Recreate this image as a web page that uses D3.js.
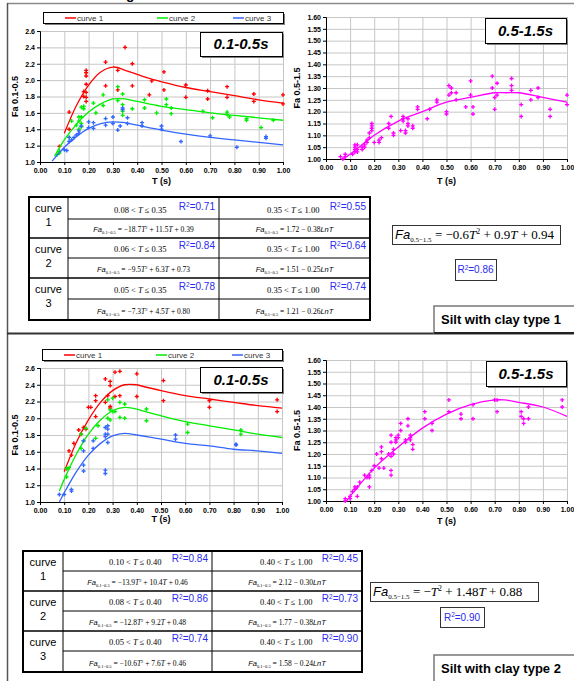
<!DOCTYPE html>
<html>
<head>
<meta charset="utf-8">
<script src="https://cdn.jsdelivr.net/npm/d3@7"></script>
<style>
  body { margin: 0; background: #fff; }
  svg { display: block; }
</style>
</head>
<body>
<div id="fig"></div>
<script>
// ---------- data ----------
var tTicks = [0, 0.1, 0.2, 0.3, 0.4, 0.5, 0.6, 0.7, 0.8, 0.9, 1.0]
var faTicks = [1.0, 1.2, 1.4, 1.6, 1.8, 2.0, 2.2, 2.4, 2.6]
var fa2Ticks = [1.00, 1.05, 1.10, 1.15, 1.20, 1.25, 1.30, 1.35, 1.40, 1.45, 1.50, 1.55, 1.60]
var curveNames = ['curve 1', 'curve 2', 'curve 3']

// silt with clay type 1, Fa 0.1-0.5
var t1Red = [[0.08,1.19],[0.12,1.61],[0.12,1.40],[0.18,1.80],[0.18,1.86],[0.19,1.79],[0.19,1.74],[0.19,1.85],[0.19,1.95],[0.19,2.05],[0.19,2.09],[0.19,2.12],[0.27,2.22],[0.27,1.93],[0.32,2.12],[0.32,1.88],[0.35,2.40],[0.38,2.20],[0.38,1.93],[0.46,1.99],[0.45,1.82],[0.51,2.10],[0.51,1.88],[0.60,1.94],[0.60,1.79],[0.69,1.87],[0.69,1.77],[0.77,1.92],[0.77,1.79],[0.88,1.83],[0.88,1.74],[1.00,1.82],[1.00,1.71]]
var t1Green = [[0.07,1.09],[0.08,1.11],[0.08,1.13],[0.13,1.50],[0.12,1.30],[0.15,1.45],[0.16,1.55],[0.16,1.50],[0.17,1.55],[0.17,1.47],[0.17,1.67],[0.18,1.68],[0.18,1.65],[0.17,1.43],[0.16,1.40],[0.22,1.72],[0.23,1.60],[0.26,1.82],[0.26,1.69],[0.32,1.92],[0.32,1.75],[0.34,1.83],[0.34,1.70],[0.34,1.62],[0.34,1.57],[0.38,1.65],[0.43,1.76],[0.43,1.66],[0.48,1.60],[0.52,1.77],[0.52,1.70],[0.54,1.66],[0.54,1.59],[0.67,1.62],[0.71,1.54],[0.77,1.61],[0.77,1.58],[0.78,1.55],[0.85,1.53],[0.85,1.51],[0.91,1.42],[0.96,1.51]]
var t1Blue = [[0.10,1.15],[0.11,1.14],[0.12,1.30],[0.12,1.25],[0.13,1.27],[0.14,1.30],[0.15,1.33],[0.16,1.35],[0.16,1.38],[0.17,1.44],[0.20,1.49],[0.20,1.42],[0.22,1.48],[0.22,1.41],[0.27,1.53],[0.27,1.45],[0.30,1.55],[0.30,1.47],[0.32,1.39],[0.33,1.44],[0.34,1.66],[0.34,1.64],[0.36,1.54],[0.36,1.47],[0.42,1.48],[0.42,1.44],[0.50,1.44],[0.50,1.40],[0.58,1.25],[0.70,1.32],[0.81,1.18],[0.93,1.31],[0.93,1.29]]
// fitted lines as drawn (short-period part, long-period part)
var t1RedFitA = [[0.10,1.35],[0.15,1.69],[0.20,1.94],[0.25,2.10],[0.30,2.16],[0.35,2.12]]
var t1RedFitB = [[0.35,2.12],[0.40,2.07],[0.45,2.02],[0.50,1.98],[0.60,1.91],[0.70,1.86],[0.80,1.81],[0.90,1.76],[1.00,1.72]]
var t1GreenFitA = [[0.06,1.07],[0.10,1.27],[0.15,1.46],[0.20,1.61],[0.25,1.71],[0.30,1.77],[0.35,1.77]]
var t1GreenFitB = [[0.35,1.77],[0.40,1.74],[0.50,1.68],[0.60,1.64],[0.70,1.60],[0.80,1.57],[0.90,1.54],[1.00,1.51]]
var t1BlueFitA = [[0.05,1.01],[0.10,1.18],[0.15,1.31],[0.20,1.41],[0.25,1.47],[0.30,1.49],[0.35,1.48]]
var t1BlueFitB = [[0.35,1.48],[0.40,1.45],[0.50,1.39],[0.60,1.34],[0.70,1.30],[0.80,1.27],[0.90,1.24],[1.00,1.21]]

// silt with clay type 1, Fa 0.5-1.5
var t1Pink = [[0.06,1.01],[0.07,1.00],[0.08,1.02],[0.08,1.01],[0.11,1.02],[0.12,1.06],[0.12,1.05],[0.12,1.04],[0.12,1.03],[0.13,1.06],[0.13,1.04],[0.13,1.03],[0.15,1.04],[0.15,1.05],[0.16,1.06],[0.16,1.05],[0.17,1.07],[0.17,1.08],[0.18,1.09],[0.18,1.11],[0.19,1.12],[0.19,1.13],[0.19,1.14],[0.19,1.15],[0.20,1.07],[0.22,1.08],[0.22,1.07],[0.23,1.09],[0.26,1.15],[0.26,1.13],[0.27,1.18],[0.28,1.11],[0.28,1.10],[0.31,1.12],[0.32,1.18],[0.32,1.17],[0.32,1.16],[0.33,1.12],[0.33,1.11],[0.34,1.17],[0.34,1.15],[0.34,1.14],[0.36,1.14],[0.36,1.13],[0.38,1.22],[0.38,1.21],[0.42,1.17],[0.43,1.21],[0.46,1.25],[0.46,1.24],[0.50,1.20],[0.50,1.19],[0.51,1.31],[0.51,1.27],[0.52,1.30],[0.52,1.28],[0.54,1.28],[0.54,1.25],[0.58,1.22],[0.60,1.33],[0.60,1.27],[0.61,1.22],[0.61,1.19],[0.69,1.35],[0.69,1.30],[0.70,1.26],[0.70,1.21],[0.71,1.32],[0.71,1.27],[0.77,1.34],[0.77,1.31],[0.77,1.29],[0.81,1.23],[0.81,1.18],[0.85,1.29],[0.85,1.25],[0.88,1.30],[0.88,1.26],[0.93,1.21],[0.93,1.18],[1.00,1.27],[1.00,1.23]]
var t1PinkFit = [[0.07,1.00],[0.10,1.02],[0.20,1.10],[0.30,1.16],[0.40,1.20],[0.50,1.24],[0.60,1.26],[0.70,1.28],[0.75,1.28],[0.80,1.28],[0.90,1.26],[1.00,1.24]]

// silt with clay type 2, Fa 0.1-0.5
var t2Red = [[0.11,1.40],[0.12,1.61],[0.13,1.56],[0.14,1.70],[0.16,1.86],[0.17,1.81],[0.18,1.89],[0.19,1.87],[0.20,2.13],[0.21,2.13],[0.23,2.27],[0.23,2.21],[0.23,2.02],[0.27,2.19],[0.27,2.47],[0.28,2.27],[0.29,2.44],[0.29,2.39],[0.29,2.14],[0.29,2.12],[0.31,2.55],[0.31,2.26],[0.33,2.56],[0.33,2.27],[0.40,2.53],[0.40,2.26],[0.51,2.45],[0.51,2.21],[0.70,2.21],[0.70,2.13],[0.98,2.22],[0.98,2.08]]
var t2Green = [[0.11,1.40],[0.11,1.30],[0.12,1.41],[0.17,1.64],[0.17,1.81],[0.18,1.73],[0.19,1.88],[0.23,1.76],[0.24,1.91],[0.28,2.22],[0.28,2.00],[0.29,2.10],[0.29,1.98],[0.30,2.08],[0.30,2.24],[0.31,2.08],[0.33,2.19],[0.33,2.01],[0.35,2.17],[0.35,2.00],[0.44,2.11],[0.44,1.97],[0.61,1.93],[0.61,1.83],[0.83,1.86],[0.83,1.81]]
var t2Blue = [[0.08,1.09],[0.10,1.09],[0.13,1.15],[0.13,1.13],[0.18,1.73],[0.18,1.61],[0.18,1.44],[0.18,1.37],[0.22,1.73],[0.22,1.64],[0.27,1.89],[0.27,1.81],[0.27,1.78],[0.27,1.38],[0.27,1.34],[0.28,1.91],[0.28,1.81],[0.28,1.71],[0.28,1.87],[0.56,1.80],[0.56,1.75],[0.81,1.69],[0.81,1.68]]
var t2RedFitA = [[0.10,1.36],[0.15,1.71],[0.20,1.98],[0.25,2.19],[0.30,2.33],[0.35,2.40],[0.40,2.40]]
var t2RedFitB = [[0.40,2.40],[0.50,2.33],[0.60,2.27],[0.70,2.23],[0.80,2.19],[0.90,2.15],[1.00,2.12]]
var t2GreenFitA = [[0.08,1.13],[0.10,1.27],[0.15,1.57],[0.20,1.81],[0.25,1.98],[0.30,2.09],[0.35,2.13],[0.40,2.11]]
var t2GreenFitB = [[0.40,2.11],[0.50,2.03],[0.60,1.96],[0.70,1.91],[0.80,1.86],[0.90,1.81],[1.00,1.77]]
var t2BlueFitA = [[0.08,1.00],[0.10,1.11],[0.15,1.36],[0.20,1.56],[0.25,1.70],[0.30,1.79],[0.35,1.82],[0.40,1.80]]
var t2BlueFitB = [[0.40,1.80],[0.50,1.75],[0.60,1.70],[0.70,1.67],[0.80,1.63],[0.90,1.61],[1.00,1.58]]

// silt with clay type 2, Fa 0.5-1.5
var t2Pink = [[0.08,1.01],[0.08,1.00],[0.10,1.02],[0.10,1.01],[0.11,1.04],[0.12,1.05],[0.12,1.06],[0.13,1.06],[0.13,1.02],[0.14,1.08],[0.16,1.11],[0.17,1.10],[0.18,1.11],[0.18,1.10],[0.18,1.06],[0.19,1.13],[0.20,1.15],[0.21,1.20],[0.22,1.14],[0.23,1.23],[0.23,1.21],[0.23,1.18],[0.24,1.14],[0.26,1.20],[0.27,1.28],[0.27,1.25],[0.27,1.19],[0.27,1.13],[0.27,1.11],[0.28,1.22],[0.28,1.20],[0.29,1.27],[0.29,1.26],[0.29,1.25],[0.30,1.28],[0.30,1.27],[0.31,1.33],[0.31,1.30],[0.33,1.25],[0.33,1.26],[0.34,1.35],[0.34,1.32],[0.35,1.28],[0.35,1.27],[0.35,1.26],[0.36,1.24],[0.36,1.22],[0.41,1.38],[0.41,1.35],[0.44,1.33],[0.44,1.30],[0.51,1.43],[0.51,1.38],[0.56,1.37],[0.56,1.35],[0.61,1.41],[0.61,1.35],[0.70,1.43],[0.71,1.43],[0.71,1.38],[0.81,1.38],[0.81,1.36],[0.82,1.35],[0.82,1.33],[0.84,1.40],[0.84,1.35],[0.98,1.43],[0.98,1.40]]
var t2PinkFit = [[0.085,1.00],[0.10,1.02],[0.20,1.14],[0.30,1.23],[0.40,1.31],[0.50,1.37],[0.60,1.41],[0.70,1.43],[0.74,1.43],[0.80,1.42],[0.90,1.40],[1.00,1.36]]

// regression tables
var tab1Short = ['0.08 < T ≤ 0.35', '0.06 < T ≤ 0.35', '0.05 < T ≤ 0.35']
var tab1ShortR2 = ['0.71', '0.84', '0.78']
var tab1ShortEq = ['−18.7T² + 11.5T + 0.39', '−9.5T² + 6.3T + 0.73', '−7.3T² + 4.5T + 0.80']
var tab1Long = ['0.35 < T ≤ 1.00', '0.35 < T ≤ 1.00', '0.35 < T ≤ 1.00']
var tab1LongR2 = ['0.55', '0.64', '0.74']
var tab1LongEq = ['1.72 − 0.38LnT', '1.51 − 0.25LnT', '1.21 − 0.26LnT']
var tab2Short = ['0.10 < T ≤ 0.40', '0.08 < T ≤ 0.40', '0.05 < T ≤ 0.40']
var tab2ShortR2 = ['0.84', '0.86', '0.74']
var tab2ShortEq = ['−13.9T² + 10.4T + 0.46', '−12.8T² + 9.2T + 0.48', '−10.6T² + 7.6T + 0.46']
var tab2Long = ['0.40 < T ≤ 1.00', '0.40 < T ≤ 1.00', '0.40 < T ≤ 1.00']
var tab2LongR2 = ['0.45', '0.73', '0.90']
var tab2LongEq = ['2.12 − 0.30LnT', '1.77 − 0.38LnT', '1.58 − 0.24LnT']
var longEq = ['−0.6T² + 0.9T + 0.94', '−T² + 1.48T + 0.88']
var longR2 = ['0.86', '0.90']
var soilNames = ['Silt with clay type 1', 'Silt with clay type 2']

var colors = ['#ff0000', '#00ee00', '#3366ff']
var pink = '#ff00ff'
var SERIF = "'Liberation Serif', 'Times New Roman', serif"
var SANS = "'Liberation Sans', Arial, sans-serif"

var svg = d3.select('#fig').append('svg')
    .attr('width', 574).attr('height', 681)
    .style('font-family', SANS)

//page frame
svg.append('line').attr('x1', 7).attr('y1', 3.5).attr('x2', 574).attr('y2', 3.5)
    .attr('stroke', '#8a8a8a').attr('stroke-width', 1.5)
svg.append('line').attr('x1', 7.5).attr('y1', 3).attr('x2', 7.5).attr('y2', 681)
    .attr('stroke', '#555').attr('stroke-width', 1.5)
svg.append('line').attr('x1', 7).attr('y1', 333.5).attr('x2', 574).attr('y2', 333.5)
    .attr('stroke', '#333').attr('stroke-width', 2)
// bottom of the cut-off title
svg.append('text').attr('x', 126).attr('y', -1).text('g')
    .style('font-size', '14px').style('font-weight', 'bold')

//rich text: T italic, ² raised, LnT italic
function richText(sel, str, size, fam) {
  var back = 0
  str.split(/(LnT|T|²)/).forEach(function(p) {
    if (p === '') return
    var ts = sel.append('tspan')
    if (p === '²') {
      ts.attr('dy', back - size * 0.4).style('font-size', (size * 0.6) + 'px')
        .style('font-family', fam).style('font-style', 'normal').text('2')
      back = size * 0.4
      return
    }
    if (back) ts.attr('dy', back)
    back = 0
    if (p === 'LnT') {
      ts.style('font-family', SANS).style('font-style', 'italic').style('font-size', size + 'px').text('LnT')
    } else {
      ts.style('font-family', fam).style('font-style', p === 'T' ? 'italic' : 'normal')
        .style('font-size', size + 'px').text(p)
    }
  })
}

function faText(g, x, y, sub, expr, size, subSize, anchor) {
  var t = g.append('text').attr('x', x).attr('y', y).attr('text-anchor', anchor || 'start')
  t.append('tspan').style('font-family', SANS).style('font-style', 'italic')
   .style('font-size', size + 'px').text('Fa')
  t.append('tspan').attr('dy', size * 0.25).style('font-family', SERIF)
   .style('font-size', subSize + 'px').text(sub)
  t.append('tspan').attr('dy', -size * 0.25).style('font-family', SERIF)
   .style('font-size', size + 'px').text(' = ')
  richText(t, expr, size, SERIF)
  return t
}

function shadowBox(x, y, w, h) {
  svg.append('rect').attr('x', x + 2).attr('y', y + 2).attr('width', w).attr('height', h).attr('fill', '#7f7f7f')
  svg.append('rect').attr('x', x + 0.5).attr('y', y + 0.5).attr('width', w).attr('height', h)
     .attr('fill', '#fff').attr('stroke', '#000').attr('stroke-width', 1)
}

function r2Label(g, x, y, val, anchor) {
  var r2 = g.append('text').attr('x', x).attr('y', y).attr('text-anchor', anchor)
   .attr('fill', '#2a2af0').style('font-size', '10px')
  r2.append('tspan').text('R')
  r2.append('tspan').attr('dy', -3.5).style('font-size', '6.5px').text('2')
  r2.append('tspan').attr('dy', 3.5).text('=' + val)
}

//scatter chart with fitted lines
function drawChart(cfg) {
  var x = d3.scaleLinear().domain([0, 1]).range(cfg.xr)
  var y = d3.scaleLinear().domain([cfg.yt[0], cfg.yt[cfg.yt.length - 1]]).range(cfg.yr)
  var g = svg.append('g')
  var h = cfg.yr[0] - cfg.yr[1], w = cfg.xr[1] - cfg.xr[0]

  //grid
  g.append('g').attr('transform', 'translate(0,' + cfg.yr[0] + ')')
   .call(d3.axisBottom(x).tickValues(tTicks).tickSize(-h).tickFormat(''))
   .call(function(a) { a.select('.domain').remove() })
   .selectAll('line').attr('stroke', '#c6c6c6')
  g.append('g').attr('transform', 'translate(' + cfg.xr[0] + ',0)')
   .call(d3.axisLeft(y).tickValues(cfg.yt).tickSize(-w).tickFormat(''))
   .call(function(a) { a.select('.domain').remove() })
   .selectAll('line').attr('stroke', '#c6c6c6')

  //axes
  var xa = g.append('g').attr('transform', 'translate(0,' + cfg.yr[0] + ')')
   .call(d3.axisBottom(x).tickValues(tTicks).tickSize(3).tickPadding(3).tickFormat(d3.format('.2f')))
  var ya = g.append('g').attr('transform', 'translate(' + cfg.xr[0] + ',0)')
   .call(d3.axisLeft(y).tickValues(cfg.yt).tickSize(3).tickPadding(2).tickFormat(cfg.fmt))
  ;[xa, ya].forEach(function(a) {
    a.selectAll('text').style('font-family', SANS).style('font-size', '7px')
     .style('font-weight', 'bold').attr('fill', '#000')
    a.selectAll('line,path').attr('stroke', '#000')
  })

  g.append('text').attr('x', (cfg.xr[0] + cfg.xr[1]) / 2).attr('y', cfg.xlab)
   .attr('text-anchor', 'middle').style('font-size', '9px').style('font-weight', 'bold').text('T (s)')
  g.append('text').attr('transform', 'translate(' + cfg.ylab + ',' + (cfg.yr[0] + cfg.yr[1]) / 2 + ') rotate(-90)')
   .attr('text-anchor', 'middle').style('font-size', '9px').style('font-weight', 'bold').text(cfg.ytitle)

  var line = d3.line().x(function(d) { return x(d[0]) }).y(function(d) { return y(d[1]) })
      .curve(d3.curveCatmullRom)
  var cross = d3.symbol().type(d3.symbolCross).size(9)

  cfg.series.forEach(function(s) {
    s.fits.forEach(function(f) {
      g.append('path').datum(f).attr('d', line).attr('fill', 'none')
       .attr('stroke', s.color).attr('stroke-width', 1.3)
    })
    g.append('g').selectAll('path').data(s.pts).enter().append('path')
     .attr('d', cross)
     .attr('transform', function(d) { return 'translate(' + x(d[0]) + ',' + y(d[1]) + ')' })
     .attr('fill', s.color)
  })

  //range box
  var b = cfg.box
  shadowBox(b[0], b[1], b[2], b[3])
  svg.append('text').attr('x', b[0] + b[2] / 2).attr('y', b[1] + b[3] / 2 + 5)
   .attr('text-anchor', 'middle').style('font-size', '15px').style('font-weight', 'bold')
   .style('font-style', 'italic').text(cfg.label)

  //legend
  if (cfg.legend) {
    var L = cfg.legend
    shadowBox(L[0], L[1], 240, 11)
    var lx = [L[0] + 22, L[0] + 114, L[0] + 190]
    curveNames.forEach(function(n, i) {
      svg.append('line').attr('x1', lx[i]).attr('x2', lx[i] + 11)
       .attr('y1', L[1] + 6).attr('y2', L[1] + 6).attr('stroke', colors[i]).attr('stroke-width', 1.5)
      svg.append('text').attr('x', lx[i] + 12).attr('y', L[1] + 9)
       .style('font-size', '8px').attr('fill', '#333').text(n)
    })
  }
}

//regression table
function drawTable(t) {
  var g = svg.append('g')
  var xs = t.xs, ys = t.ys
  for (var i = 0; i < 3; i++) {
    var top = ys[i * 2], mid = ys[i * 2 + 1], bot = ys[i * 2 + 2]
    g.append('text').attr('x', (xs[0] + xs[1]) / 2).attr('y', top + 15).attr('text-anchor', 'middle')
     .style('font-size', '11px').text('curve')
    g.append('text').attr('x', (xs[0] + xs[1]) / 2).attr('y', top + 29).attr('text-anchor', 'middle')
     .style('font-size', '11px').text(i + 1)
    var cols = [[t.short, t.shortR2, t.shortEq], [t.long, t.longR2, t.longEq]]
    cols.forEach(function(c, k) {
      var cx0 = xs[k + 1], cx1 = xs[k + 2]
      var rt = g.append('text').attr('x', cx0 + (k ? 48 : 46)).attr('y', mid - 6)
      richText(rt, c[0][i], 8.5, SERIF)
      r2Label(g, cx1 - 4, mid - 9, c[1][i], 'end')
      faText(g, (cx0 + cx1) / 2, bot - 6, '0.1−0.5', c[2][i], 7.5, 4.5, 'middle')
    })
    g.append('line').attr('x1', xs[1]).attr('x2', xs[3]).attr('y1', mid).attr('y2', mid)
     .attr('stroke', '#000').attr('stroke-width', 1)
    if (i > 0) g.append('line').attr('x1', xs[0]).attr('x2', xs[3]).attr('y1', top).attr('y2', top)
     .attr('stroke', '#000').attr('stroke-width', 1.5)
  }
  ;[1, 2].forEach(function(k) {
    g.append('line').attr('x1', xs[k]).attr('x2', xs[k]).attr('y1', ys[0]).attr('y2', ys[6])
     .attr('stroke', '#000').attr('stroke-width', 1)
  })
  g.append('rect').attr('x', xs[0]).attr('y', ys[0]).attr('width', xs[3] - xs[0]).attr('height', ys[6] - ys[0])
   .attr('fill', 'none').attr('stroke', '#000').attr('stroke-width', 2)
}

function drawLongEq(k, eb, rb, sb) {
  svg.append('rect').attr('x', eb[0] + 0.5).attr('y', eb[1] + 0.5).attr('width', eb[2]).attr('height', eb[3])
   .attr('fill', '#fff').attr('stroke', '#333').attr('stroke-width', 1)
  faText(svg, eb[0] + 3, eb[1] + eb[3] - 5, '0.5−1.5', longEq[k], 13, 7, 'start')
  svg.append('rect').attr('x', rb[0] + 0.5).attr('y', rb[1] + 0.5).attr('width', rb[2]).attr('height', rb[3])
   .attr('fill', '#fff').attr('stroke', '#333').attr('stroke-width', 1)
  r2Label(svg, rb[0] + rb[2] / 2, rb[1] + rb[3] / 2 + 3.5, longR2[k], 'middle')
  //soil name box
  svg.append('rect').attr('x', sb[0]).attr('y', sb[1]).attr('width', 200).attr('height', sb[2])
   .attr('fill', '#fff').attr('stroke', '#777').attr('stroke-width', 1.5)
  svg.append('line').attr('x1', sb[0]).attr('x2', 574).attr('y1', sb[1] + sb[2]).attr('y2', sb[1] + sb[2])
   .attr('stroke', '#222').attr('stroke-width', 2)
  svg.append('text').attr('x', sb[0] + 7).attr('y', sb[1] + 18).style('font-size', '13px')
   .style('font-weight', 'bold').text(soilNames[k])
}

// ---------- panel 1 ----------
drawChart({ xr: [40, 283], yr: [162, 31], yt: faTicks, fmt: d3.format('.1f'), xlab: 184, ylab: 18,
  ytitle: 'Fa 0.1-0.5', label: '0.1-0.5s', box: [200, 32, 82, 24], legend: [43, 12],
  series: [
    { color: colors[0], pts: t1Red, fits: [t1RedFitA, t1RedFitB] },
    { color: colors[1], pts: t1Green, fits: [t1GreenFitA, t1GreenFitB] },
    { color: colors[2], pts: t1Blue, fits: [t1BlueFitA, t1BlueFitB] }
  ] })
drawChart({ xr: [326, 567], yr: [159, 17], yt: fa2Ticks, fmt: d3.format('.2f'), xlab: 184, ylab: 300,
  ytitle: 'Fa 0.5-1.5', label: '0.5-1.5s', box: [485, 18, 81, 25],
  series: [{ color: pink, pts: t1Pink, fits: [t1PinkFit] }] })
drawTable({ xs: [29, 68, 219, 370], ys: [197, 219, 238, 258, 278, 299, 320],
  short: tab1Short, shortR2: tab1ShortR2, shortEq: tab1ShortEq,
  long: tab1Long, longR2: tab1LongR2, longEq: tab1LongEq })
drawLongEq(0, [392, 225, 168, 19], [455, 259, 41, 21], [434, 306, 27])

// ---------- panel 2 ----------
drawChart({ xr: [40, 282], yr: [502, 368], yt: faTicks, fmt: d3.format('.1f'), xlab: 522, ylab: 18,
  ytitle: 'Fa 0.1-0.5', label: '0.1-0.5s', box: [200, 367, 82, 25], legend: [42, 349],
  series: [
    { color: colors[0], pts: t2Red, fits: [t2RedFitA, t2RedFitB] },
    { color: colors[1], pts: t2Green, fits: [t2GreenFitA, t2GreenFitB] },
    { color: colors[2], pts: t2Blue, fits: [t2BlueFitA, t2BlueFitB] }
  ] })
drawChart({ xr: [326, 567], yr: [501, 360], yt: fa2Ticks, fmt: d3.format('.2f'), xlab: 524, ylab: 300,
  ytitle: 'Fa 0.5-1.5', label: '0.5-1.5s', box: [486, 361, 80, 25],
  series: [{ color: pink, pts: t2Pink, fits: [t2PinkFit] }] })
drawTable({ xs: [23, 63, 212, 362], ys: [551, 571, 591, 611, 631, 651, 672],
  short: tab2Short, shortR2: tab2ShortR2, shortEq: tab2ShortEq,
  long: tab2Long, longR2: tab2LongR2, longEq: tab2LongEq })
drawLongEq(1, [370, 582, 168, 19], [440, 607, 44, 20], [434, 655, 27])
</script>
</body>
</html>
